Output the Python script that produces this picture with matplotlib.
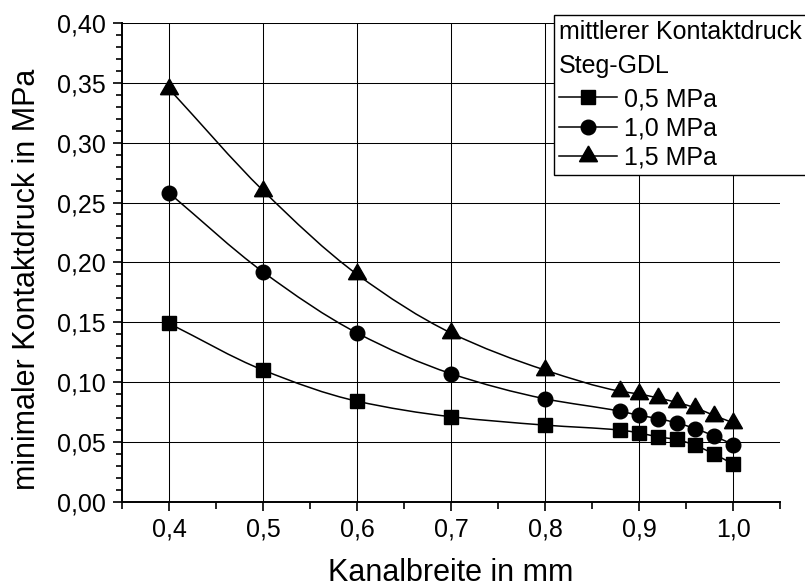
import numpy as np
import matplotlib
matplotlib.use("Agg")
import matplotlib.pyplot as plt
from matplotlib.path import Path
from matplotlib.patches import PathPatch
from matplotlib.lines import Line2D
from matplotlib.ticker import MultipleLocator

plt.rcParams['font.family'] = ['Liberation Sans', 'DejaVu Sans']

# Data
kanalbreite = [0.4, 0.5, 0.6, 0.7, 0.8, 0.88, 0.9, 0.92, 0.94, 0.96, 0.98, 1.0]
druck_05 = [0.149, 0.110, 0.084, 0.071, 0.064, 0.0598, 0.0575, 0.0542, 0.052, 0.047, 0.0398, 0.0314]
druck_10 = [0.258, 0.192, 0.141, 0.107, 0.086, 0.0756, 0.0722, 0.0695, 0.0658, 0.061, 0.0548, 0.0478]
druck_15 = [0.345, 0.260, 0.190, 0.141, 0.110, 0.0923, 0.090, 0.0867, 0.083, 0.0784, 0.072, 0.066]
labels = ["0,5 MPa", "1,0 MPa", "1,5 MPa"]

x_ticks = [0.4, 0.5, 0.6, 0.7, 0.8, 0.9, 1.0]
x_ticklabels = ["0,4", "0,5", "0,6", "0,7", "0,8", "0,9", "1,0"]
y_ticks = [0.0, 0.05, 0.10, 0.15, 0.20, 0.25, 0.30, 0.35, 0.40]
y_ticklabels = ["0,00", "0,05", "0,10", "0,15", "0,20", "0,25", "0,30", "0,35", "0,40"]


def smooth_path(x, y):
    """Cubic Hermite (pchip-style tangents) through the points as a Bezier path."""
    x = np.asarray(x, float)
    y = np.asarray(y, float)
    h = np.diff(x)
    d = np.diff(y) / h
    m = np.zeros_like(y)
    m[0], m[-1] = d[0], d[-1]
    for k in range(1, len(x) - 1):
        if d[k - 1] * d[k] > 0:
            w1 = 2 * h[k] + h[k - 1]
            w2 = h[k] + 2 * h[k - 1]
            m[k] = (w1 + w2) / (w1 / d[k - 1] + w2 / d[k])
    verts = [(x[0], y[0])]
    codes = [Path.MOVETO]
    for k in range(len(x) - 1):
        verts += [(x[k] + h[k] / 3, y[k] + m[k] * h[k] / 3),
                  (x[k + 1] - h[k] / 3, y[k + 1] - m[k + 1] * h[k] / 3),
                  (x[k + 1], y[k + 1])]
        codes += [Path.CURVE4] * 3
    return Path(verts, codes)


fig = plt.figure(figsize=(8.05, 5.87), dpi=100)
ax = fig.add_axes([0.1516, 0.1453, 0.8174, 0.8155])

series = [druck_05, druck_10, druck_15]
markers = [("s", 9.5), ("o", 10.5), ((3, 0, 0), 15)]
handles = []
for vals, (mk, ms), lab in zip(series, markers, labels):
    ax.add_patch(PathPatch(smooth_path(kanalbreite, vals), facecolor="none",
                           edgecolor="k", lw=1.1, zorder=3))
    ax.plot(kanalbreite, vals, ls="none", marker=mk, ms=ms, color="k", zorder=4)
    handles.append(Line2D([], [], color="k", lw=1.1, marker=mk, ms=ms, label=lab))

ax.set_xlim(0.35, 1.05)
ax.set_ylim(0.0, 0.40)
ax.set_xticks(x_ticks, x_ticklabels)
ax.set_yticks(y_ticks, y_ticklabels)
ax.xaxis.set_minor_locator(MultipleLocator(0.05))
ax.yaxis.set_minor_locator(MultipleLocator(0.01))
ax.tick_params(which="major", direction="out", length=6.5, width=1.2,
               labelsize=18, pad=5)
ax.tick_params(which="minor", direction="out", length=4, width=1.2)
ax.tick_params(axis="x", which="minor", length=5)

ax.grid(True, which="major", color="k", lw=0.75)
ax.set_axisbelow(True)
for side in ("top", "right"):
    ax.spines[side].set_visible(False)
for side in ("left", "bottom"):
    ax.spines[side].set_linewidth(1.4)

ax.set_xlabel("Kanalbreite in mm", fontsize=22)
ax.set_ylabel("minimaler Kontaktdruck in MPa", fontsize=22)
ax.xaxis.set_label_coords(0.5, -0.117)
ax.yaxis.set_label_coords(-0.121, 0.465)

leg = ax.legend(handles=handles, title="mittlerer Kontaktdruck\nSteg-GDL",
                loc="upper left", bbox_to_anchor=(554 / 805, 1 - 15 / 587),
                bbox_transform=fig.transFigure, fontsize=18, title_fontsize=18,
                handlelength=2.3, handletextpad=0.3, labelspacing=0.21,
                borderpad=0.2, borderaxespad=0, fancybox=False, framealpha=1,
                edgecolor="k")
leg._legend_box.align = "left"
leg._legend_box.sep = 7
leg.get_title().set_linespacing(1.5)
leg.get_frame().set_linewidth(1.0)
leg.set_zorder(10)

fig.savefig("out.png", dpi=100)
